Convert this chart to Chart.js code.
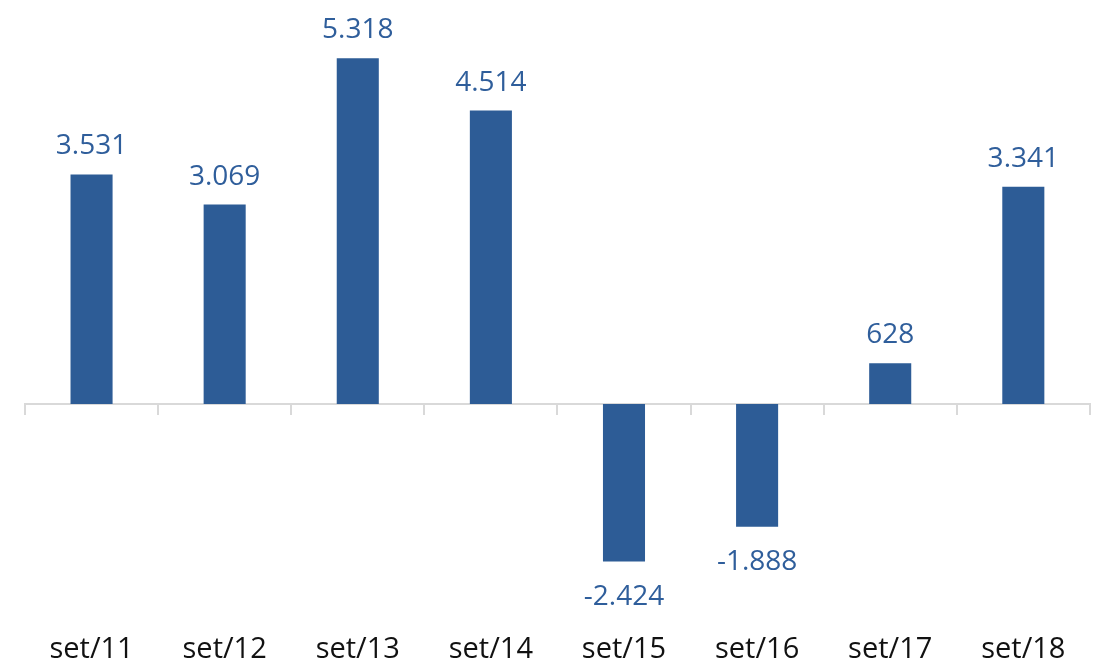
<!DOCTYPE html>
<html>
<head>
<meta charset="utf-8">
<script src="https://cdn.jsdelivr.net/npm/chart.js@4/dist/chart.umd.min.js"></script>
<style>
  html, body { margin: 0; padding: 0; background: #fff; }
  #wrap { width: 1099px; height: 666px; }
</style>
</head>
<body>
<div id="wrap"><canvas id="chart"></canvas></div>
<script>
// data
const months = ['set/11', 'set/12', 'set/13', 'set/14', 'set/15', 'set/16', 'set/17', 'set/18'];
const values = [3531, 3069, 5318, 4514, -2424, -1888, 628, 3341];

const barColor = '#2d5c96';
const labelColor = '#2f5e9b';
const axisColor = '#d9d9d9';
const fontFamily = "'Open Sans', 'Noto Sans', sans-serif";

// 3531 -> "3.531"
function fmt(v) {
    const s = Math.abs(v).toString().replace(/\B(?=(\d{3})+(?!\d))/g, '.');
    return (v < 0 ? '-' : '') + s;
}

// zero line with little tick marks between the categories
const zeroAxis = {
    id: 'zeroAxis',
    beforeDatasetsDraw(chart) {
        const { ctx, chartArea, scales } = chart;
        const y0 = Math.round(scales.y.getPixelForValue(0));
        const step = scales.x.getPixelForValue(1) - scales.x.getPixelForValue(0);
        ctx.save();
        ctx.strokeStyle = axisColor;
        ctx.lineWidth = 2;
        ctx.beginPath();
        ctx.moveTo(chartArea.left, y0);
        ctx.lineTo(chartArea.right, y0);
        for (let i = 0; i <= months.length; i++) {
            const x = Math.round(scales.x.getPixelForValue(i) - step / 2);
            ctx.moveTo(x, y0 - 1);
            ctx.lineTo(x, y0 + 11);
        }
        ctx.stroke();
        ctx.restore();
    }
};

// value labels above / below each bar
const valueLabels = {
    id: 'valueLabels',
    afterDatasetsDraw(chart) {
        const ctx = chart.ctx;
        const meta = chart.getDatasetMeta(0);
        ctx.save();
        ctx.font = '28px ' + fontFamily;
        ctx.fillStyle = labelColor;
        ctx.textAlign = 'center';
        ctx.textBaseline = 'alphabetic';
        meta.data.forEach((bar, i) => {
            const v = values[i];
            const y = v >= 0 ? bar.y - 20 : bar.y + 43;
            ctx.fillText(fmt(v), bar.x, y);
        });
        ctx.restore();
    }
};

new Chart(document.getElementById('chart'), {
    type: 'bar',
    data: {
        labels: months,
        datasets: [{
            data: values,
            backgroundColor: barColor,
            borderWidth: 0,
            categoryPercentage: 1,
            barPercentage: 0.316
        }]
    },
    options: {
        responsive: true,
        maintainAspectRatio: false,
        animation: false,
        layout: { padding: { top: 14, left: 25, right: 9, bottom: 1 } },
        plugins: {
            legend: { display: false },
            tooltip: { enabled: false }
        },
        scales: {
            x: {
                grid: { display: false, drawTicks: false },
                border: { display: false },
                afterFit: (scale) => { scale.height = 66; },
                ticks: {
                    color: '#111',
                    padding: 33,
                    font: { family: fontFamily, size: 29 }
                }
            },
            y: {
                display: false,
                min: -3000,
                max: 6000
            }
        }
    },
    plugins: [zeroAxis, valueLabels]
});
</script>
</body>
</html>
